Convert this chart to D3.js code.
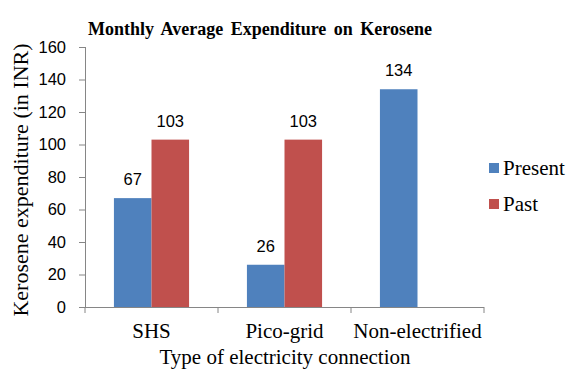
<!DOCTYPE html>
<html>
<head>
<meta charset="utf-8">
<script src="https://cdn.jsdelivr.net/npm/d3@7"></script>
<style>
  body { margin: 0; background: #fff; }
</style>
</head>
<body>
<div id="chart"></div>
<script>
// Data
var categories = ["SHS", "Pico-grid", "Non-electrified"];
var seriesNames = ["Present", "Past"];
var presentValues = [67, 26, 134];
var pastValues = [103, 103, null];
var yTicks = [0, 20, 40, 60, 80, 100, 120, 140, 160];

var width = 587,
    height = 372,
    colors = ["#4F81BD", "#C0504D"],
    axisColor = "#868686",
    serif = "'Liberation Serif', 'Times New Roman', serif",
    sans = "'Liberation Sans', Arial, sans-serif";

var margin = {left: 85, right: 103, top: 47, bottom: 65};

var svg = d3.select("#chart")
    .append("svg")
    .attr("width", width)
    .attr("height", height);

var x = d3.scaleBand()
    .domain(categories)
    .range([margin.left, width - margin.right]);

// two bars side by side inside each category, present always on the left
var xInner = d3.scaleBand()
    .domain(seriesNames)
    .range([0, x.bandwidth()])
    .paddingOuter(0.77)
    .paddingInner(0);

var y = d3.scaleLinear()
    .domain([0, 160])
    .range([height - margin.bottom, margin.top]);

// bars
var rows = categories.map(function(c, i) {
    return {cat: c, vals: [presentValues[i], pastValues[i]]};
});

function present(d) {
    return d.vals.map(function(v, j) { return {name: seriesNames[j], v: v, j: j}; })
        .filter(function(e) { return e.v != null; });
}

var groups = svg.selectAll("g.cat")
    .data(rows)
    .enter().append("g")
    .attr("class", "cat")
    .attr("transform", function(d) { return "translate(" + x(d.cat) + ",0)"; });

groups.selectAll("rect")
    .data(present)
    .enter().append("rect")
    .attr("x", function(d) { return xInner(d.name); })
    .attr("width", xInner.bandwidth())
    .attr("y", function(d) { return y(d.v); })
    .attr("height", function(d) { return y(0) - y(d.v); })
    .attr("fill", function(d) { return colors[d.j]; });

groups.selectAll("text.lbl")
    .data(present)
    .enter().append("text")
    .attr("class", "lbl")
    .attr("x", function(d) { return xInner(d.name) + xInner.bandwidth() / 2; })
    .attr("y", function(d) { return y(d.v) - 13; })
    .attr("text-anchor", "middle")
    .style("font-family", sans)
    .style("font-size", "16.5px")
    .text(function(d) { return d.v; });

// y axis
var yAxis = svg.append("g")
    .attr("transform", "translate(" + margin.left + ",0)")
    .call(d3.axisLeft(y).tickValues(yTicks).tickSize(6).tickPadding(13));
yAxis.selectAll("text").style("font-family", sans).style("font-size", "16.5px").attr("fill", "#000");

// x axis
var xAxis = svg.append("g")
    .attr("transform", "translate(0," + y(0) + ")")
    .call(d3.axisBottom(x).tickSize(0).tickPadding(16));
xAxis.selectAll("text").style("font-family", serif).style("font-size", "21px").attr("fill", "#000");
xAxis.selectAll(".tick line").remove();
xAxis.selectAll("line.sep")
    .data(x.range().concat(categories.slice(1).map(function(c) { return x(c); })))
    .enter().append("line")
    .attr("class", "sep")
    .attr("x1", function(d) { return d; })
    .attr("x2", function(d) { return d; })
    .attr("y1", 0)
    .attr("y2", 6)
    .attr("stroke", axisColor);

svg.selectAll(".domain, .tick line").attr("stroke", axisColor);
xAxis.select(".domain").attr("d", "M" + x.range()[0] + ",0.5H" + x.range()[1]);
yAxis.select(".domain").attr("d", "M0.5," + y(0) + "V" + y(160));

// title
svg.append("text")
    .attr("x", 260)
    .attr("y", 35)
    .attr("text-anchor", "middle")
    .style("font-family", serif)
    .style("font-weight", "bold")
    .style("font-size", "18px")
    .style("word-spacing", "3px")
    .text("Monthly Average Expenditure on Kerosene");

// axis titles
svg.append("text")
    .attr("x", 285)
    .attr("y", 364)
    .attr("text-anchor", "middle")
    .style("font-family", serif)
    .style("font-size", "21px")
    .text("Type of electricity connection");

svg.append("text")
    .attr("transform", "translate(28,180) rotate(-90)")
    .attr("text-anchor", "middle")
    .style("font-family", serif)
    .style("font-size", "22px")
    .text("Kerosene expenditure (in INR)");

// legend
var legend = svg.selectAll("g.leg")
    .data(seriesNames)
    .enter().append("g")
    .attr("class", "leg")
    .attr("transform", function(d, i) { return "translate(489," + (163 + i * 36) + ")"; });
legend.append("rect")
    .attr("width", 10).attr("height", 10)
    .attr("fill", function(d, i) { return colors[i]; });
legend.append("text")
    .attr("x", 14)
    .attr("y", 12)
    .style("font-family", serif)
    .style("font-size", "21px")
    .text(function(d) { return d; });
</script>
</body>
</html>
